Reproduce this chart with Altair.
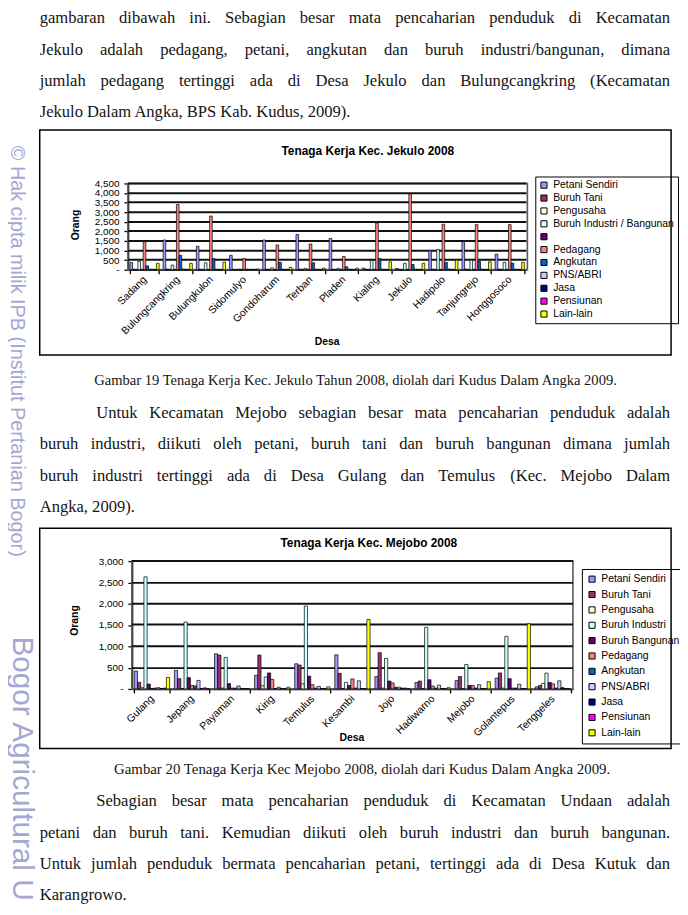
import altair as alt
import pandas as pd

W, H = 678, 899
OX, OY = 8, 8
SANS = "Liberation Sans"
SERIF = "Liberation Serif"

# ---------------- page text ----------------
para1 = [
    "gambaran dibawah ini. Sebagian besar mata pencaharian penduduk di Kecamatan",
    "Jekulo adalah pedagang, petani, angkutan dan buruh industri/bangunan, dimana",
    "jumlah pedagang tertinggi ada di Desa Jekulo dan Bulungcangkring (Kecamatan",
    "Jekulo Dalam Angka, BPS Kab. Kudus, 2009).",
]
caption1 = "Gambar 19 Tenaga Kerja Kec. Jekulo Tahun 2008, diolah dari Kudus Dalam Angka 2009."
para2 = [
    "Untuk Kecamatan Mejobo sebagian besar mata pencaharian penduduk adalah",
    "buruh industri, diikuti oleh petani, buruh tani dan buruh bangunan dimana jumlah",
    "buruh industri tertinggi ada di Desa Gulang dan Temulus (Kec. Mejobo Dalam",
    "Angka, 2009).",
]
caption2 = "Gambar 20 Tenaga Kerja Kec Mejobo 2008, diolah dari Kudus Dalam Angka 2009."
para3 = [
    "Sebagian besar mata pencaharian penduduk di Kecamatan Undaan adalah",
    "petani dan buruh tani. Kemudian diikuti oleh buruh industri dan buruh bangunan.",
    "Untuk jumlah penduduk bermata pencaharian petani, tertinggi ada di Desa Kutuk dan",
    "Karangrowo.",
]
watermark1 = "\u00a9 Hak cipta milik IPB (Institut Pertanian Bogor)"
watermark2 = "Bogor Agricultural U"

title1 = "Tenaga Kerja Kec. Jekulo 2008"
title2 = "Tenaga Kerja Kec. Mejobo 2008"

# ---------------- chart 1 data (Kec. Jekulo) ----------------
desa_jekulo = ["Sadang", "Bulungcangkring", "Bulungkulon", "Sidomulyo", "Gondoharum", "Terban",
               "Pladen", "Kialing", "Jekulo", "Hadipolo", "Tanjungrejo", "Honggosoco"]
seri_jekulo = ["Petani Sendiri", "Buruh Tani", "Pengusaha", "Buruh Industri / Bangunan", " ",
               "Pedagang", "Angkutan", "PNS/ABRI", "Jasa", "Pensiunan", "Lain-lain"]
j_petani = [380, 1550, 1220, 750, 1550, 1840, 1630, 80, 60, 1000, 1460, 810]
j_buruh_tani = [10, 20, 10, 10, 20, 20, 10, 10, 10, 20, 20, 20]
j_pengusaha = [5, 5, 5, 5, 5, 5, 5, 5, 5, 5, 5, 5]
j_buruh_industri = [430, 240, 360, 20, 100, 70, 70, 480, 330, 1060, 500, 380]
j_kosong = [0, 0, 0, 0, 0, 0, 0, 0, 0, 0, 0, 0]
j_pedagang = [1460, 3400, 2800, 580, 1290, 1340, 690, 2440, 3950, 2370, 2350, 2350]
j_angkutan = [200, 750, 580, 20, 380, 360, 150, 580, 270, 380, 430, 340]
j_pns = [20, 30, 20, 10, 20, 20, 20, 20, 20, 30, 20, 20]
j_jasa = [10, 10, 10, 5, 10, 10, 10, 10, 10, 10, 10, 10]
j_pensiunan = [5, 5, 5, 5, 5, 5, 5, 5, 5, 5, 5, 5]
j_lain = [330, 330, 395, 30, 120, 80, 80, 410, 330, 500, 410, 380]
jekulo_vals = [j_petani, j_buruh_tani, j_pengusaha, j_buruh_industri, j_kosong, j_pedagang,
               j_angkutan, j_pns, j_jasa, j_pensiunan, j_lain]
jekulo_ticks = [0, 500, 1000, 1500, 2000, 2500, 3000, 3500, 4000, 4500]

# ---------------- chart 2 data (Kec. Mejobo) ----------------
desa_mejobo = ["Gulang", "Jepang", "Payaman", "Kirig", "Temulus", "Kesambi", "Jojo",
               "Hadiwarno", "Mejobo", "Golantepus", "Tenggeles"]
seri_mejobo = ["Petani Sendiri", "Buruh Tani", "Pengusaha", "Buruh Industri", "Buruh Bangunan",
               "Pedagang", "Angkutan", "PNS/ABRI", "Jasa", "Pensiunan", "Lain-lain"]
m_petani = [420, 435, 825, 320, 590, 800, 290, 150, 195, 255, 50]
m_buruh_tani = [155, 240, 795, 795, 560, 365, 850, 185, 290, 375, 80]
m_pengusaha = [30, 10, 20, 75, 120, 10, 20, 10, 10, 20, 130]
m_buruh_industri = [2630, 1570, 740, 280, 1945, 155, 715, 1445, 575, 1235, 370]
m_buruh_bangunan = [115, 265, 125, 375, 300, 80, 185, 215, 80, 240, 150]
m_pedagang = [10, 80, 20, 225, 100, 235, 140, 70, 80, 20, 120]
m_angkutan = [20, 70, 20, 10, 20, 20, 40, 20, 20, 20, 20]
m_pns = [30, 200, 70, 40, 60, 190, 40, 90, 100, 110, 190]
m_jasa = [10, 10, 10, 10, 10, 10, 20, 10, 10, 10, 30]
m_pensiunan = [20, 25, 10, 5, 5, 5, 20, 5, 5, 5, 10]
m_lain = [270, 0, 0, 40, 50, 1630, 0, 30, 170, 1530, 0]
mejobo_vals = [m_petani, m_buruh_tani, m_pengusaha, m_buruh_industri, m_buruh_bangunan, m_pedagang,
               m_angkutan, m_pns, m_jasa, m_pensiunan, m_lain]
mejobo_ticks = [0, 500, 1000, 1500, 2000, 2500, 3000]

PAL = ["#9999FF", "#993366", "#FFFFCC", "#CCFFFF", "#660066", "#FF8080",
       "#0066CC", "#CCCCFF", "#000080", "#FF00FF", "#FFFF00"]

# ---------------- Times metrics for justified text ----------------
TW = {}
for ch, v in zip("abcdefghijklmnopqrstuvwxyz",
                 [444, 500, 444, 500, 444, 333, 500, 500, 278, 278, 500, 278, 778, 500, 500, 500, 500,
                  333, 389, 278, 500, 500, 722, 500, 500, 444]):
    TW[ch] = v
for ch, v in zip("ABCDEFGHIJKLMNOPQRSTUVWXYZ",
                 [722, 667, 667, 722, 611, 556, 722, 722, 333, 389, 722, 611, 889, 722, 722, 556, 722,
                  667, 556, 611, 722, 722, 944, 722, 722, 611]):
    TW[ch] = v
for ch in "0123456789":
    TW[ch] = 500
TW.update({" ": 250, ",": 250, ".": 250, "(": 333, ")": 333, "/": 278, "-": 333})


def tw(s, fs):
    return sum(TW.get(c, 500) for c in s) * fs / 1000.0


BODY_FS = 16.7
text_rows = []


def put_line(line, left, right, yc, fs, justify):
    base = yc - OY + 0.26 * fs
    if not justify:
        text_rows.append({"t": line, "x": left - OX, "y": base, "fs": fs})
        return
    words = line.split(" ")
    ws = [tw(w, fs) for w in words]
    gap = (right - left - sum(ws)) / (len(words) - 1)
    x = left
    for w, wd in zip(words, ws):
        text_rows.append({"t": w, "x": x - OX, "y": base, "fs": fs})
        x += wd + gap


def put_paragraph(lines, first_left, y0, indent_first):
    for i, line in enumerate(lines):
        left = first_left if (i == 0 and indent_first) else 40
        put_line(line, left, 676, y0 + 31.7 * i, BODY_FS, i < len(lines) - 1)


def put_caption(line, left, right, yc):
    fs = (right - left) / (sum(TW.get(c, 500) for c in line) / 1000.0)
    text_rows.append({"t": line, "x": left - OX, "y": yc - OY + 0.26 * fs, "fs": fs})


put_paragraph(para1, 40, 15, False)
put_caption(caption1, 95, 626, 381)
put_paragraph(para2, 97, 413, True)
put_caption(caption2, 115, 618, 773)
put_paragraph(para3, 97, 805, True)
body_df = pd.DataFrame(text_rows)

body = alt.Chart(body_df).mark_text(align="left", baseline="alphabetic", font=SERIF, color="#151515").encode(
    x=alt.X("x:Q", scale=None, axis=None),
    y=alt.Y("y:Q", scale=None, axis=None),
    text="t:N",
    size=alt.Size("fs:Q", scale=None, legend=None),
)

sans_df = pd.DataFrame([
    {"t": title1, "x": 371 - OX, "y": 148 - OY, "fs": 12, "a": 0},
    {"t": title2, "x": 372 - OX, "y": 544 - OY, "fs": 12, "a": 0},
    {"t": "Orang", "x": 77 - OX, "y": 223 - OY, "fs": 10.5, "a": 270},
    {"t": "Orang", "x": 76 - OX, "y": 622 - OY, "fs": 10.5, "a": 270},
    {"t": "Desa", "x": 330 - OX, "y": 341 - OY, "fs": 10.5, "a": 0},
    {"t": "Desa", "x": 355 - OX, "y": 741 - OY, "fs": 10.5, "a": 0},
])
sans = alt.Chart(sans_df).mark_text(align="center", baseline="middle", font=SANS, fontWeight="bold",
                                     color="black").encode(
    x=alt.X("x:Q", scale=None, axis=None),
    y=alt.Y("y:Q", scale=None, axis=None),
    text="t:N",
    size=alt.Size("fs:Q", scale=None, legend=None),
    angle=alt.Angle("a:Q", scale=None),
)

wm_df = pd.DataFrame([
    {"t": watermark1, "x": 17 - OX, "y": 143 - OY, "fs": 20},
    {"t": watermark2, "x": 22 - OX, "y": 638 - OY, "fs": 30},
])
wm = alt.Chart(wm_df).mark_text(align="left", baseline="middle", font=SANS, angle=90,
                                 color="#a4a7d3").encode(
    x=alt.X("x:Q", scale=None, axis=None),
    y=alt.Y("y:Q", scale=None, axis=None),
    text="t:N",
    size=alt.Size("fs:Q", scale=None, legend=None),
)

xr1 = [129 - OX, 531 - OX]
yr1 = [268 - OY, 181 - OY]
xr2 = [133 - OX, 578 - OX]
yr2 = [691 - OY, 562 - OY]

# decorations: chart frames, grey plot borders and the value gridlines (layout only)
deco_rows = [
    {"bx1": 40 - OX, "bx2": 677 - OX, "by1": 127 - OY, "by2": 354 - OY, "kind": "frame"},
    {"bx1": 40 - OX, "bx2": 677 - OX, "by1": 529 - OY, "by2": 751 - OY, "kind": "frame"},
    {"bx1": xr1[0], "bx2": xr1[1] + 1, "by1": yr1[1], "by2": yr1[0], "kind": "plot"},
    {"bx1": xr2[0], "bx2": xr2[1], "by1": yr2[1], "by2": yr2[0], "kind": "plot"},
]
for ticks, xr, yr in [(jekulo_ticks, xr1, yr1), (mejobo_ticks, xr2, yr2)]:
    top = ticks[-1]
    for v in ticks[1:]:
        gy = round(yr[0] + (yr[1] - yr[0]) * v / top)
        deco_rows.append({"bx1": xr[0], "bx2": xr[1], "by1": gy - 1, "by2": gy + 1, "kind": "grid"})
deco_df = pd.DataFrame(deco_rows)

boxes = alt.Chart(deco_df).mark_rect().encode(
    x=alt.X("bx1:Q", scale=None, axis=None), x2="bx2:Q",
    y=alt.Y("by1:Q", scale=None, axis=None), y2="by2:Q",
    fill=alt.Fill("kind:N", scale=alt.Scale(domain=["frame", "plot", "grid"],
                                             range=["transparent", "transparent", "#111111"]),
                  legend=None),
    stroke=alt.Stroke("kind:N", scale=alt.Scale(domain=["frame", "plot", "grid"],
                                                 range=["black", "#5e5e5e", "transparent"]),
                      legend=None),
    strokeWidth=alt.StrokeWidth("kind:N", scale=alt.Scale(domain=["frame", "plot", "grid"],
                                                           range=[1.5, 1.8, 0]),
                                legend=None),
)


def long_df(desa, seri, vals):
    rows = []
    for s, v in zip(seri, vals):
        for d, n in zip(desa, v):
            rows.append({"desa": d, "seri": s, "orang": n})
    return pd.DataFrame(rows)


def bars(df, desa, seri, ticks, xr, yr, ymax, legx, legy, rowpad, pad):
    return alt.Chart(df).mark_bar(stroke="black", strokeWidth=0.7).encode(
        x=alt.X("desa:N", sort=desa,
                scale=alt.Scale(domain=desa, range=xr, paddingInner=0.12, paddingOuter=0.06),
                axis=alt.Axis(orient="bottom", offset=yr[0] - H, title=None, labelAngle=-45,
                              labelAlign="right", labelBaseline="middle", labelPadding=4,
                              labelFont=SANS, labelFontSize=10.5, labelColor="black",
                              labelOverlap=False, tickBand="extent", tickSize=4, tickColor="black",
                              tickWidth=1.3, domainWidth=1.8, domainColor="black", grid=False)),
        xOffset=alt.XOffset("seri:N", sort=seri,
                            scale=alt.Scale(domain=seri, paddingInner=0, paddingOuter=0)),
        y=alt.Y("orang:Q", scale=alt.Scale(domain=[0, ymax], range=yr, nice=False),
                axis=alt.Axis(orient="left", offset=-xr[0], title=None, values=ticks,
                              labelExpr="datum.value == 0 ? '-' : format(datum.value, ',')",
                              grid=False, tickSize=4, tickWidth=1.3, labelOverlap=False,
                              tickColor="black", domainColor="black", domainWidth=1.8,
                              labelFont=SANS, labelFontSize=10, labelColor="black", labelPadding=5)),
        color=alt.Color("seri:N", sort=seri, scale=alt.Scale(domain=seri, range=PAL),
                        legend=alt.Legend(orient="none", legendX=legx, legendY=legy, title=None,
                                          symbolType="square", symbolSize=38,
                                          symbolStrokeColor="black", symbolStrokeWidth=1,
                                          labelFont=SANS, labelFontSize=10.5, labelColor="black",
                                          labelLimit=300, strokeColor="black", padding=pad,
                                          rowPadding=rowpad, labelOffset=4)),
    )


bars1 = bars(long_df(desa_jekulo, seri_jekulo, jekulo_vals), desa_jekulo, seri_jekulo, jekulo_ticks,
             xr1, yr1, 4500, 540 - OX, 174 - OY, 2.0, 3.5)
bars2 = bars(long_df(desa_mejobo, seri_mejobo, mejobo_vals), desa_mejobo, seri_mejobo, mejobo_ticks,
             xr2, yr2, 3000, 587 - OX, 570 - OY, 4.5, 5)

chart = alt.layer(boxes, bars1, bars2, body, sans, wm).resolve_scale(
    x="independent", y="independent", color="independent", xOffset="independent",
    fill="independent", stroke="independent", strokeWidth="independent"
).properties(
    width=W, height=H, padding=0, autosize=alt.AutoSizeParams(type="none")
).configure_view(stroke=None)

chart.save("out.html", embed_options={"renderer": "svg", "actions": False})
